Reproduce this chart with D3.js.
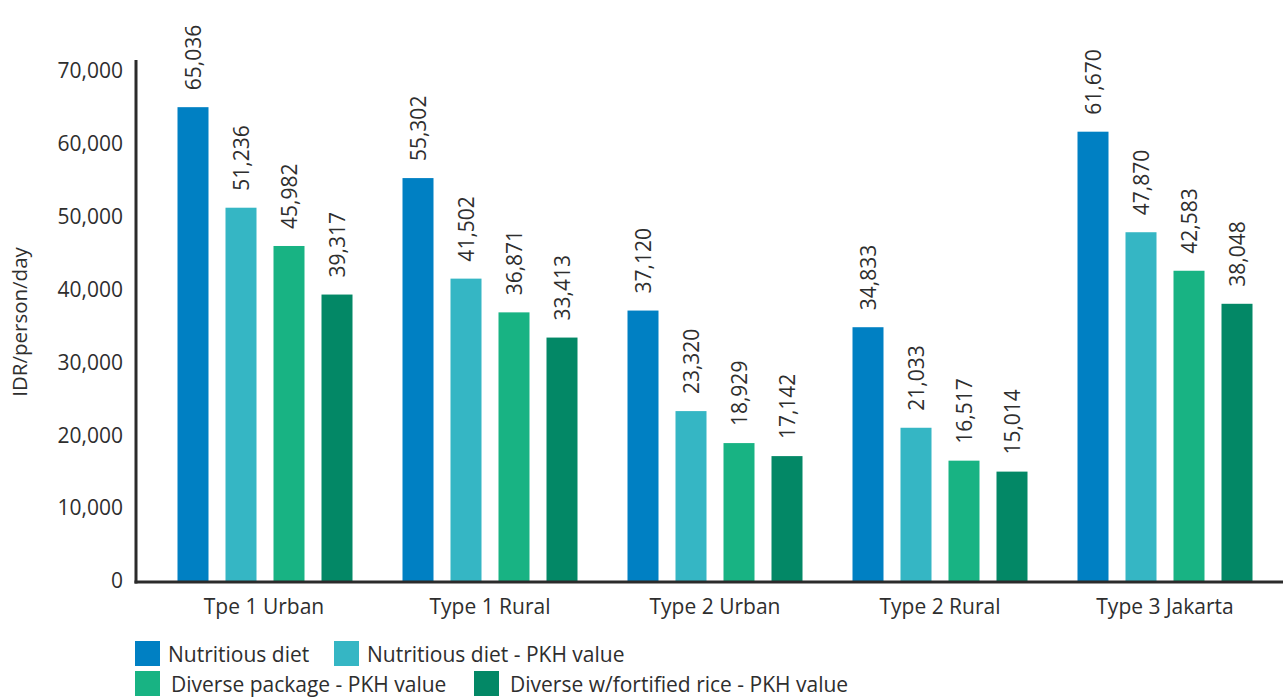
<!DOCTYPE html>
<html><head><meta charset="utf-8">
<script src="https://cdn.jsdelivr.net/npm/d3@7/dist/d3.min.js"></script>
<style>
body{margin:0;background:#fff;}
text{font-family:"Open Sans",sans-serif;fill:#2e2e2e;}
</style></head>
<body><svg id="c" width="1283" height="697"></svg>
<script>
const categories = ["Tpe 1 Urban","Type 1 Rural","Type 2 Urban","Type 2 Rural","Type 3 Jakarta"];
const seriesNames = ["Nutritious diet","Nutritious diet - PKH value","Diverse package - PKH value","Diverse w/fortified rice - PKH value"];
const nutritiousDiet = [65036,55302,37120,34833,61670];
const nutritiousPKH = [51236,41502,23320,21033,47870];
const diversePKH = [45982,36871,18929,16517,42583];
const fortifiedPKH = [39317,33413,17142,15014,38048];
const yTicks = [0,10000,20000,30000,40000,50000,60000,70000];
const colors = ["#0080c3","#35b6c4","#18b383","#038866"];
const yTitle = "IDR/person/day";

const seriesValues = [nutritiousDiet,nutritiousPKH,diversePKH,fortifiedPKH];
const svg = d3.select("#c");
const fs = 21;

const y = d3.scaleLinear().domain([0,70000]).range([581,71]);
const x0 = d3.scaleBand().domain(categories).range([152.5,1277.5]).padding(0);
const x1 = d3.scaleBand().domain(seriesNames).range([25,200]).paddingInner(17/48).paddingOuter(0);
const color = d3.scaleOrdinal().domain(seriesNames).range(colors);

// y axis ticks
const ya = svg.append("g").attr("transform","translate(136,0)")
  .call(d3.axisLeft(y).tickValues(yTicks).tickFormat(d3.format(",")).tickSize(0).tickPadding(13));
ya.select(".domain").remove();
ya.selectAll("text").style("font-size",fs+"px").style("font-family","'Open Sans',sans-serif").attr("fill","#2e2e2e");

// bars
const groups = svg.append("g").selectAll("g").data(categories).join("g")
  .attr("transform",d=>`translate(${x0(d)},0)`);
groups.each(function(cat,ci){
  const g = d3.select(this);
  const recs = seriesNames.map((s,si)=>({s, v: seriesValues[si][ci]}));
  g.selectAll("rect").data(recs).join("rect")
    .attr("x",d=>x1(d.s)).attr("width",x1.bandwidth())
    .attr("y",d=>y(d.v)).attr("height",d=>y(0)-y(d.v))
    .attr("fill",d=>color(d.s));
  g.selectAll("text.lbl").data(recs).join("text").attr("class","lbl")
    .attr("transform",d=>`translate(${x1(d.s)+x1.bandwidth()/2},${y(d.v)-17}) rotate(-90)`)
    .attr("dy","0.36em").attr("text-anchor","start")
    .style("font-size",fs+"px")
    .text(d=>d3.format(",")(d.v));
});

// axes lines
svg.append("line").attr("x1",136).attr("x2",136).attr("y1",60).attr("y2",583.5)
  .attr("stroke","#2b2b2b").attr("stroke-width",3);
svg.append("line").attr("x1",134.5).attr("x2",1283).attr("y1",582).attr("y2",582)
  .attr("stroke","#2b2b2b").attr("stroke-width",3);

// category labels
svg.append("g").selectAll("text").data(categories).join("text")
  .attr("x",d=>x0(d)+x0.bandwidth()/2 - (d===categories[0]?1:0)).attr("y",614)
  .attr("text-anchor","middle").style("font-size",fs+"px").text(d=>d);

// y title
svg.append("text").attr("transform","translate(27,322) rotate(-90)")
  .attr("text-anchor","middle").style("font-size","20.5px").text(yTitle);

// legend
const legPos = [[135,641],[334,641],[135,671],[474,671]];
const leg = svg.append("g").selectAll("g").data(seriesNames).join("g")
  .attr("transform",(d,i)=>`translate(${legPos[i][0]},${legPos[i][1]})`);
leg.append("rect").attr("width",25).attr("height",25).attr("fill",d=>color(d));
leg.append("text").attr("x",(d,i)=>i===2||i===3?36:33).attr("y",13).attr("dy","0.36em")
  .style("font-size",fs+"px").text(d=>d);
</script></body></html>
